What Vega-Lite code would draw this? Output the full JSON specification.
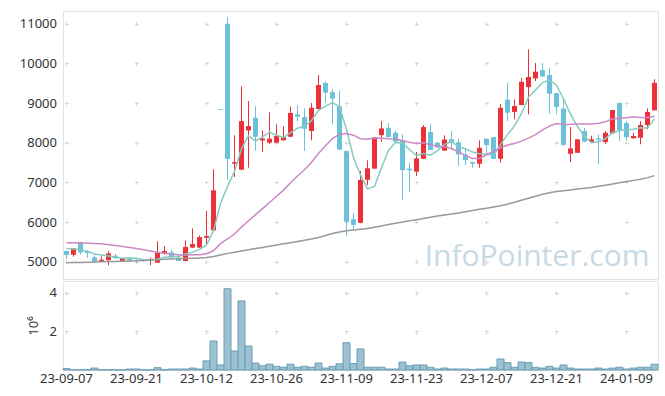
{
  "$schema": "https://vega.github.io/schema/vega-lite/v6.json",
  "padding": {"left": 18, "top": 10, "right": 5, "bottom": 5},
  "spacing": 0,
  "config": {
    "view": {"stroke": "#e3e3e3", "strokeWidth": 1},
    "axis": {"labelFont": "Noto Sans", "labelFontSize": 13, "labelColor": "#333333", "ticks": false, "domain": false, "gridColor": "#d6d6d6", "gridWidth": 1, "titleFont": "Noto Sans", "titleFontWeight": "normal", "titleColor": "#333333", "titleFontSize": 13}
  },
  "data": {"values": [
    {"d":"23-09-07","o":5270,"h":5280,"l":5070,"c":5170,"v":70000,"m5":5330,"m20":5480,"m120":4975},
    {"d":"23-09-08","o":5175,"h":5345,"l":5125,"c":5340,"v":10000,"m5":5320,"m20":5478,"m120":4978},
    {"d":"23-09-11","o":5495,"h":5500,"l":5185,"c":5235,"v":10000,"m5":5300,"m20":5472,"m120":4982},
    {"d":"23-09-12","o":5270,"h":5290,"l":5100,"c":5220,"v":10000,"m5":5260,"m20":5468,"m120":4986},
    {"d":"23-09-13","o":5110,"h":5160,"l":4990,"c":5000,"v":100000,"m5":5193,"m20":5462,"m120":4990},
    {"d":"23-09-14","o":5000,"h":5135,"l":4990,"c":5050,"v":10000,"m5":5169,"m20":5450,"m120":4997},
    {"d":"23-09-15","o":5040,"h":5270,"l":4910,"c":5210,"v":10000,"m5":5143,"m20":5430,"m120":5003},
    {"d":"23-09-18","o":5150,"h":5195,"l":5080,"c":5085,"v":10000,"m5":5113,"m20":5410,"m120":5008},
    {"d":"23-09-19","o":5020,"h":5095,"l":5010,"c":5095,"v":10000,"m5":5088,"m20":5385,"m120":5012},
    {"d":"23-09-20","o":5095,"h":5120,"l":5000,"c":5025,"v":50000,"m5":5093,"m20":5360,"m120":5018},
    {"d":"23-09-21","o":5050,"h":5060,"l":4970,"c":5015,"v":50000,"m5":5086,"m20":5330,"m120":5025},
    {"d":"23-09-22","o":5035,"h":5040,"l":5000,"c":5015,"v":10000,"m5":5047,"m20":5300,"m120":5032},
    {"d":"23-09-25","o":5030,"h":5100,"l":4910,"c":5045,"v":10000,"m5":5039,"m20":5270,"m120":5040},
    {"d":"23-09-26","o":4975,"h":5515,"l":4970,"c":5220,"v":120000,"m5":5064,"m20":5240,"m120":5048},
    {"d":"23-09-27","o":5200,"h":5395,"l":5180,"c":5270,"v":10000,"m5":5113,"m20":5215,"m120":5060},
    {"d":"23-10-04","o":5235,"h":5300,"l":5100,"c":5100,"v":50000,"m5":5130,"m20":5190,"m120":5067},
    {"d":"23-10-05","o":5100,"h":5130,"l":5010,"c":5020,"v":50000,"m5":5131,"m20":5175,"m120":5073},
    {"d":"23-10-06","o":5015,"h":5540,"l":5010,"c":5370,"v":50000,"m5":5196,"m20":5170,"m120":5080},
    {"d":"23-10-10","o":5355,"h":5840,"l":5350,"c":5445,"v":100000,"m5":5241,"m20":5175,"m120":5088},
    {"d":"23-10-11","o":5355,"h":5665,"l":5350,"c":5620,"v":50000,"m5":5311,"m20":5178,"m120":5095},
    {"d":"23-10-12","o":5605,"h":6280,"l":5440,"c":5650,"v":470000,"m5":5421,"m20":5202,"m120":5105},
    {"d":"23-10-13","o":5790,"h":7330,"l":5780,"c":6800,"v":1500000,"m5":5777,"m20":5275,"m120":5130},
    {"d":"23-10-16","o":8850,"h":8850,"l":8830,"c":8830,"v":260000,"m5":6469,"m20":5454,"m120":5170},
    {"d":"23-10-17","o":11000,"h":11165,"l":7075,"c":7590,"v":4200000,"m5":6898,"m20":5573,"m120":5210},
    {"d":"23-10-18","o":7470,"h":8185,"l":7135,"c":7510,"v":980000,"m5":7276,"m20":5698,"m120":5240},
    {"d":"23-10-19","o":7320,"h":9420,"l":7305,"c":8545,"v":3570000,"m5":7855,"m20":5873,"m120":5270},
    {"d":"23-10-20","o":8310,"h":9050,"l":7370,"c":8420,"v":1240000,"m5":8179,"m20":6034,"m120":5300},
    {"d":"23-10-23","o":8630,"h":8915,"l":7800,"c":8150,"v":360000,"m5":8043,"m20":6187,"m120":5330},
    {"d":"23-10-24","o":8055,"h":8310,"l":7770,"c":8105,"v":220000,"m5":8146,"m20":6337,"m120":5360},
    {"d":"23-10-25","o":8000,"h":8765,"l":7960,"c":8100,"v":300000,"m5":8264,"m20":6491,"m120":5390},
    {"d":"23-10-26","o":8000,"h":8465,"l":7990,"c":8170,"v":190000,"m5":8189,"m20":6649,"m120":5420},
    {"d":"23-10-27","o":8060,"h":8410,"l":8050,"c":8140,"v":140000,"m5":8133,"m20":6805,"m120":5450},
    {"d":"23-10-30","o":8150,"h":8915,"l":8140,"c":8750,"v":300000,"m5":8253,"m20":6990,"m120":5480},
    {"d":"23-10-31","o":8715,"h":8940,"l":8545,"c":8655,"v":140000,"m5":8363,"m20":7162,"m120":5510},
    {"d":"23-11-01","o":8645,"h":8865,"l":7790,"c":8350,"v":190000,"m5":8413,"m20":7316,"m120":5540},
    {"d":"23-11-02","o":8295,"h":9000,"l":8060,"c":8880,"v":140000,"m5":8555,"m20":7505,"m120":5570},
    {"d":"23-11-03","o":8850,"h":9705,"l":8840,"c":9455,"v":360000,"m5":8818,"m20":7727,"m120":5610},
    {"d":"23-11-06","o":9505,"h":9555,"l":9005,"c":9260,"v":100000,"m5":8920,"m20":7921,"m120":5660},
    {"d":"23-11-07","o":9275,"h":9345,"l":8460,"c":9110,"v":190000,"m5":9011,"m20":8105,"m120":5710},
    {"d":"23-11-08","o":8915,"h":9320,"l":7825,"c":7825,"v":320000,"m5":8906,"m20":8215,"m120":5750},
    {"d":"23-11-09","o":7790,"h":7800,"l":5650,"c":6010,"v":1410000,"m5":8332,"m20":8233,"m120":5780},
    {"d":"23-11-10","o":6070,"h":6235,"l":5820,"c":5925,"v":330000,"m5":7626,"m20":8189,"m120":5800},
    {"d":"23-11-13","o":5980,"h":7285,"l":5970,"c":7060,"v":1090000,"m5":7186,"m20":8101,"m120":5820},
    {"d":"23-11-14","o":7065,"h":7555,"l":6930,"c":7355,"v":140000,"m5":6835,"m20":8089,"m120":5840},
    {"d":"23-11-15","o":7345,"h":8140,"l":7340,"c":8140,"v":140000,"m5":6898,"m20":8120,"m120":5870},
    {"d":"23-11-16","o":8190,"h":8545,"l":8020,"c":8360,"v":140000,"m5":7368,"m20":8111,"m120":5900},
    {"d":"23-11-17","o":8375,"h":8505,"l":8140,"c":8140,"v":50000,"m5":7811,"m20":8097,"m120":5940},
    {"d":"23-11-20","o":8250,"h":8295,"l":8025,"c":8025,"v":50000,"m5":8004,"m20":8091,"m120":5970},
    {"d":"23-11-21","o":8060,"h":8210,"l":6545,"c":7310,"v":410000,"m5":7995,"m20":8051,"m120":6000},
    {"d":"23-11-22","o":7345,"h":7495,"l":6765,"c":7305,"v":220000,"m5":7828,"m20":8011,"m120":6030},
    {"d":"23-11-23","o":7270,"h":7765,"l":7160,"c":7605,"v":260000,"m5":7677,"m20":7983,"m120":6060},
    {"d":"23-11-24","o":7595,"h":8445,"l":7590,"c":8395,"v":260000,"m5":7728,"m20":7996,"m120":6090},
    {"d":"23-11-27","o":8270,"h":8475,"l":7815,"c":7815,"v":140000,"m5":7686,"m20":7949,"m120":6120},
    {"d":"23-11-28","o":8000,"h":8010,"l":7870,"c":7880,"v":50000,"m5":7800,"m20":7910,"m120":6150},
    {"d":"23-11-29","o":7800,"h":8185,"l":7790,"c":8080,"v":100000,"m5":7955,"m20":7897,"m120":6175},
    {"d":"23-11-30","o":8085,"h":8295,"l":7830,"c":8000,"v":50000,"m5":8034,"m20":7853,"m120":6200},
    {"d":"23-12-01","o":8010,"h":8100,"l":7410,"c":7705,"v":50000,"m5":7896,"m20":7765,"m120":6230},
    {"d":"23-12-04","o":7705,"h":7830,"l":7435,"c":7565,"v":50000,"m5":7846,"m20":7681,"m120":6260},
    {"d":"23-12-05","o":7510,"h":7515,"l":7370,"c":7470,"v":10000,"m5":7764,"m20":7599,"m120":6290},
    {"d":"23-12-06","o":7470,"h":8060,"l":7370,"c":7870,"v":50000,"m5":7722,"m20":7601,"m120":6320},
    {"d":"23-12-07","o":8100,"h":8105,"l":7680,"c":7940,"v":50000,"m5":7710,"m20":7697,"m120":6350},
    {"d":"23-12-08","o":8140,"h":8145,"l":7590,"c":7595,"v":140000,"m5":7688,"m20":7781,"m120":6380},
    {"d":"23-12-11","o":7595,"h":8980,"l":7495,"c":8880,"v":570000,"m5":7951,"m20":7872,"m120":6410},
    {"d":"23-12-12","o":9085,"h":9515,"l":8545,"c":8755,"v":380000,"m5":8208,"m20":7942,"m120":6450},
    {"d":"23-12-13","o":8775,"h":9090,"l":8590,"c":8925,"v":140000,"m5":8419,"m20":7981,"m120":6500},
    {"d":"23-12-14","o":8950,"h":9635,"l":8945,"c":9535,"v":410000,"m5":8738,"m20":8040,"m120":6550},
    {"d":"23-12-15","o":9400,"h":10355,"l":8715,"c":9655,"v":380000,"m5":9150,"m20":8116,"m120":6600},
    {"d":"23-12-18","o":9620,"h":10010,"l":9555,"c":9790,"v":140000,"m5":9332,"m20":8204,"m120":6650},
    {"d":"23-12-19","o":9830,"h":10010,"l":9665,"c":9670,"v":100000,"m5":9515,"m20":8322,"m120":6700},
    {"d":"23-12-20","o":9705,"h":9890,"l":8730,"c":9235,"v":190000,"m5":9577,"m20":8418,"m120":6740},
    {"d":"23-12-21","o":9250,"h":9255,"l":8715,"c":8900,"v":100000,"m5":9450,"m20":8483,"m120":6770},
    {"d":"23-12-22","o":8860,"h":9090,"l":7915,"c":7945,"v":260000,"m5":9108,"m20":8461,"m120":6790},
    {"d":"23-12-26","o":7720,"h":8395,"l":7510,"c":7855,"v":100000,"m5":8721,"m20":8463,"m120":6810},
    {"d":"23-12-27","o":7745,"h":8085,"l":7740,"c":8085,"v":50000,"m5":8404,"m20":8473,"m120":6830},
    {"d":"23-12-28","o":8295,"h":8375,"l":8025,"c":8025,"v":50000,"m5":8162,"m20":8470,"m120":6850},
    {"d":"24-01-02","o":8020,"h":8175,"l":8015,"c":8085,"v":50000,"m5":7999,"m20":8474,"m120":6870},
    {"d":"24-01-03","o":8110,"h":8210,"l":7455,"c":8075,"v":100000,"m5":8025,"m20":8493,"m120":6900},
    {"d":"24-01-04","o":8015,"h":8295,"l":7960,"c":8250,"v":50000,"m5":8104,"m20":8527,"m120":6930},
    {"d":"24-01-05","o":8235,"h":8825,"l":8230,"c":8825,"v":100000,"m5":8252,"m20":8595,"m120":6960},
    {"d":"24-01-08","o":9005,"h":9010,"l":8040,"c":8310,"v":140000,"m5":8309,"m20":8617,"m120":6990},
    {"d":"24-01-09","o":8495,"h":8545,"l":8060,"c":8140,"v":50000,"m5":8320,"m20":8627,"m120":7020},
    {"d":"24-01-10","o":8110,"h":8250,"l":8105,"c":8170,"v":100000,"m5":8339,"m20":8656,"m120":7050},
    {"d":"24-01-11","o":8125,"h":8545,"l":7960,"c":8445,"v":140000,"m5":8378,"m20":8634,"m120":7080},
    {"d":"24-01-12","o":8445,"h":8865,"l":8335,"c":8775,"v":140000,"m5":8368,"m20":8635,"m120":7120},
    {"d":"24-01-15","o":8815,"h":9600,"l":8810,"c":9510,"v":300000,"m5":8608,"m20":8664,"m120":7170}
  ]},
  "vconcat": [
    {
      "width": 595,
      "height": 268,
      "encoding": {
        "x": {"field": "d", "type": "ordinal", "title": null,
          "scale": {"paddingInner": 0, "paddingOuter": 0},
          "axis": {"values": ["23-09-07","23-09-21","23-10-12","23-10-26","23-11-09","23-11-23","23-12-07","23-12-21","24-01-09"], "labels": false, "bandPosition": 0.5, "grid": true, "gridDash": [4, 35.67], "gridDashOffset": 28.97}}
      },
      "layer": [
        {"mark": {"type": "rule", "strokeWidth": 1},
         "encoding": {
           "y": {"field": "h", "type": "quantitative", "title": null,
             "scale": {"domain": [4564, 11320], "nice": false, "zero": false},
             "axis": {"values": [5000,6000,7000,8000,9000,10000,11000], "format": "d", "labelPadding": 6.5, "grid": true, "gridDash": [4, 66], "gridDashOffset": 68.5}},
           "y2": {"field": "l"},
           "color": {"condition": {"test": "datum.c >= datum.o", "value": "#ec3238"}, "value": "#6bc0da"}
         }},
        {"mark": {"type": "bar", "size": 5},
         "encoding": {
           "y": {"field": "o", "type": "quantitative", "title": null},
           "y2": {"field": "c"},
           "color": {"condition": {"test": "datum.c >= datum.o", "value": "#ec3238"}, "value": "#6bc0da"}
         }},
        {"mark": {"type": "line", "color": "#86cbbf", "strokeWidth": 1.5},
         "encoding": {"y": {"field": "m5", "type": "quantitative", "title": null}}},
        {"mark": {"type": "line", "color": "#cc88c4", "strokeWidth": 1.5},
         "encoding": {"y": {"field": "m20", "type": "quantitative", "title": null}}},
        {"mark": {"type": "line", "color": "#999999", "strokeWidth": 1.5},
         "encoding": {"y": {"field": "m120", "type": "quantitative", "title": null}}},
        {"data": {"values": [{"label": "InfoPointer.com"}]},
         "mark": {"type": "text", "align": "right", "baseline": "alphabetic", "font": "Open Sans", "fontSize": 30, "color": "#c6d9e5", "dx": -5},
         "encoding": {"x": {"datum": "24-01-15"}, "y": {"datum": 4890}, "text": {"field": "label"}}}
      ]
    },
    {
      "width": 595,
      "height": 89,
      "mark": {"type": "bar", "fill": "#9cc1d2", "stroke": "#6b9db6", "strokeWidth": 1},
      "encoding": {
        "x": {"field": "d", "type": "ordinal", "title": null,
          "scale": {"paddingInner": 0, "paddingOuter": 0},
          "axis": {"values": ["23-09-07","23-09-21","23-10-12","23-10-26","23-11-09","23-11-23","23-12-07","23-12-21","24-01-09"], "labelAngle": 0, "labelPadding": 2, "bandPosition": 0.5, "grid": true, "gridDash": [4, 35.3], "gridDashOffset": 29.3}},
        "y": {"field": "v", "type": "quantitative", "title": "10⁶",
          "scale": {"domain": [0, 4600000], "nice": false},
          "axis": {"values": [2000000, 4000000], "labelExpr": "datum.value / 1000000", "labelPadding": 6.5, "titlePadding": 9, "grid": true, "gridDash": [4, 66], "gridDashOffset": 68.5}}
      }
    }
  ]
}
